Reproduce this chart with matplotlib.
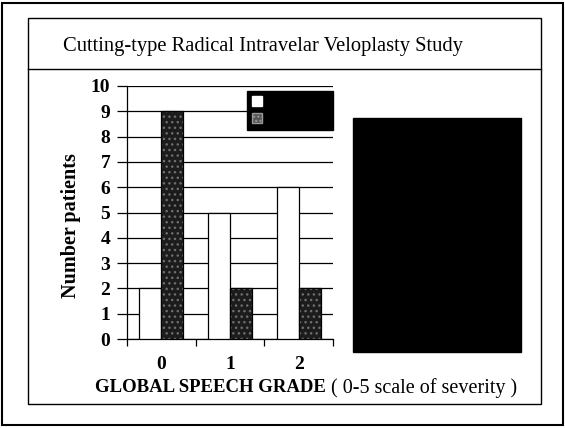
import matplotlib.pyplot as plt
from matplotlib.patches import Rectangle, Patch
from matplotlib.lines import Line2D
import numpy as np

plt.rcParams['font.family'] = ['Liberation Serif', 'DejaVu Serif']

grades = ['0', '1', '2']
series_a = [2, 5, 6]   # light bars
series_b = [9, 2, 2]   # dark speckled bars
y_ticks = list(range(0, 11))

W, H = 565, 428
fig = plt.figure(figsize=(W / 100, H / 100), dpi=100)


def px(x, y):
    return x / W, 1 - y / H


# outer frame and inner panel
fig.patches.append(Rectangle(px(2, 425), 561 / W, 422 / H, transform=fig.transFigure,
                             fill=False, lw=1.5, ec='black'))
fig.patches.append(Rectangle(px(28, 404), 513 / W, 386 / H, transform=fig.transFigure,
                             fill=False, lw=1.0, ec='black'))
fig.lines.append(Line2D([28 / W, 541 / W], [1 - 69 / H, 1 - 69 / H],
                        transform=fig.transFigure, color='black', lw=1.0))

# black block on the right
fig.patches.append(Rectangle(px(353, 352), 168 / W, 234 / H, transform=fig.transFigure,
                             fc='black', ec='black'))

fig.text(263 / W, 1 - 46 / H, 'Cutting-type Radical Intravelar Veloplasty Study',
         ha='center', va='center', fontsize=14.8)

ax = fig.add_axes([127 / W, 1 - 339 / H, 206 / W, 253 / H])
x = np.arange(len(grades))
bw = 0.32
ax.bar(x - bw / 2, series_a, bw, color='white', edgecolor='black', lw=0.9, zorder=3)
ax.bar(x + bw / 2, series_b, bw, color='#1c1c1c', edgecolor='#6e6e6e', hatch='...',
       lw=0, zorder=3)
ax.bar(x + bw / 2, series_b, bw, fill=False, edgecolor='black', lw=0.9, zorder=4)

ax.set_xlim(-0.5, len(grades) - 0.5)
ax.set_ylim(0, 10)
ax.set_yticks(y_ticks)
ax.set_yticklabels([str(t) for t in y_ticks], fontweight='bold', fontsize=14)
ax.yaxis.grid(True, color='black', lw=0.9, zorder=0)
ax.set_axisbelow(True)
ax.tick_params(axis='y', length=7, width=0.9, pad=5)

ax.set_xticks(x)
ax.set_xticklabels(grades, fontweight='bold', fontsize=14)
ax.tick_params(axis='x', which='major', length=0, pad=12)
ax.set_xticks(np.arange(-0.5, len(grades)), minor=True)
ax.tick_params(axis='x', which='minor', length=5, width=0.9, direction='out')

for s in ['top', 'right']:
    ax.spines[s].set_visible(False)
for s in ['left', 'bottom']:
    ax.spines[s].set_linewidth(0.9)

ax.set_ylabel('Number patients', fontweight='bold', fontsize=14.5)
ax.yaxis.set_label_coords(-0.225, 0.45)

leg = ax.legend([Patch(fc='white', ec='white'),
                 Patch(fc='#555555', ec='#999999', hatch='....')],
                ['                  ', '                  '],
                loc='upper right', bbox_to_anchor=(1.0, 1 - 5 / 253), borderaxespad=0,
                frameon=True, fancybox=False, handlelength=0.8, handleheight=0.8,
                borderpad=0.4, labelspacing=0.4, handletextpad=0.8, fontsize=9)
leg.get_frame().set_facecolor('black')
leg.get_frame().set_edgecolor('black')
leg.get_frame().set_alpha(1)
leg.set_zorder(10)

fig.text(326 / W, 1 - 388 / H, 'GLOBAL SPEECH GRADE', ha='right', va='center',
         fontsize=13.5, fontweight='bold')
fig.text(326 / W, 1 - 388 / H, ' ( 0-5 scale of severity )', ha='left', va='center',
         fontsize=14.5)

fig.savefig('out.png', dpi=100)
